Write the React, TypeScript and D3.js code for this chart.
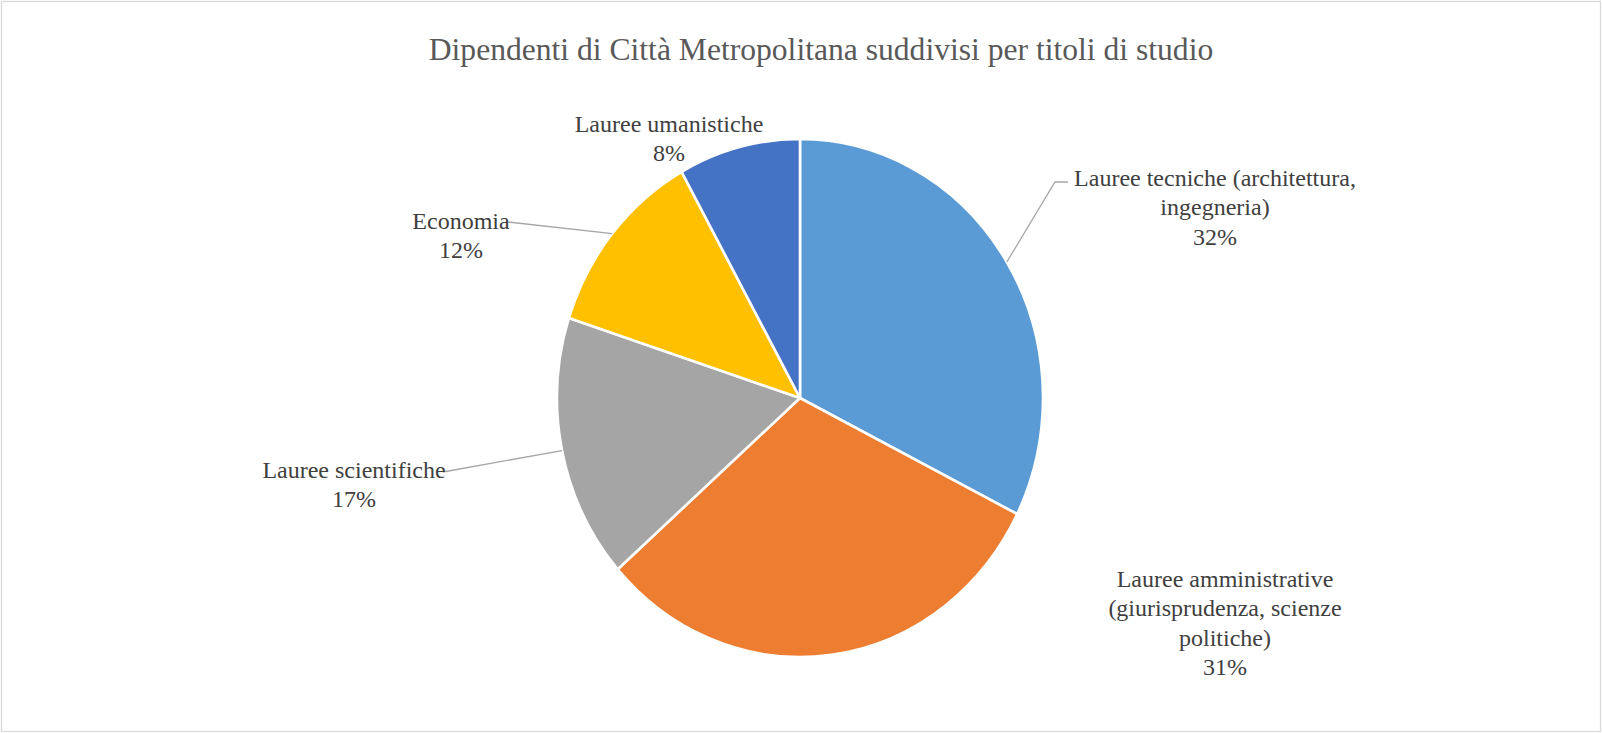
import { arc, pie } from 'd3'
import type { PieArcDatum } from 'd3'

const categories = [
  'Lauree tecniche (architettura, ingegneria)',
  'Lauree amministrative (giurisprudenza, scienze politiche)',
  'Lauree scientifiche',
  'Economia',
  'Lauree umanistiche',
]
const shares = [32.4, 31.1, 16.5, 11.9, 8.1]
const colors = ['#5B9BD5', '#ED7D31', '#A5A5A5', '#FFC000', '#4472C4']

// label text lines, placed by hand like the source chart
const labelLines = [
  ['Lauree tecniche (architettura,', 'ingegneria)'],
  ['Lauree amministrative', '(giurisprudenza, scienze', 'politiche)'],
  ['Lauree scientifiche'],
  ['Economia'],
  ['Lauree umanistiche'],
]
const labelPos = [
  { x: 1215, y: 186, leader: { x: 1068, y: 182, bend: 1055 } },
  { x: 1225, y: 587, leader: null },
  { x: 354, y: 478, leader: { x: 443, y: 472, bend: null } },
  { x: 461, y: 229, leader: { x: 508, y: 222, bend: null } },
  { x: 669, y: 132, leader: null },
]

const width = 1602
const height = 733
const cx = 800
const cy = 398
const radius = 243
const ky = 259 / 243
const lineH = 29.3

type Slice = { name: string; value: number; i: number }

const App = () => {
  const data: Slice[] = categories.map((name, i) => ({ name, value: shares[i], i }))
  const arcs = pie<Slice>().sort(null).value((d) => d.value)(data)
  const arcGen = arc<PieArcDatum<Slice>>().innerRadius(0).outerRadius(radius)
  const edgeGen = arc<PieArcDatum<Slice>>().innerRadius(radius).outerRadius(radius)

  return (
    <svg
      width={width}
      height={height}
      style={{ position: 'absolute', left: 0, top: 0, display: 'block' }}
      fontFamily="'Liberation Serif', 'Times New Roman', serif"
    >
      <rect x={0} y={0} width={width} height={height} fill="#fff" />
      <rect x={1.5} y={1.5} width={1599} height={730} fill="none" stroke="#D9D9D9" strokeWidth={1.3} />

      <text x={821} y={60} textAnchor="middle" fontSize={31.6} fill="#595959">
        Dipendenti di Città Metropolitana suddivisi per titoli di studio
      </text>

      <g transform={`translate(${cx}, ${cy}) scale(1, ${ky})`}>
        {arcs.map((a) => (
          <path
            key={a.data.name}
            d={arcGen(a) ?? ''}
            fill={colors[a.data.i]}
            stroke="#fff"
            strokeWidth={2.6}
            vectorEffect="non-scaling-stroke"
          />
        ))}
      </g>

      {arcs.map((a) => {
        const i = a.data.i
        const pos = labelPos[i]
        const lines = [...labelLines[i], `${Math.round(shares[i])}%`]
        const [ex, ey] = edgeGen.centroid(a)
        const end = { x: cx + ex, y: cy + ey * ky }
        let leader = null
        if (pos.leader) {
          const l = pos.leader
          const pts =
            l.bend != null
              ? `${l.x},${l.y} ${l.bend},${l.y} ${end.x},${end.y}`
              : `${l.x},${l.y} ${end.x},${end.y}`
          leader = <polyline points={pts} fill="none" stroke="#A6A6A6" strokeWidth={1.3} />
        }
        return (
          <g key={a.data.name}>
            {leader}
            <text textAnchor="middle" fontSize={24} fill="#404040">
              {lines.map((t, j) => (
                <tspan key={j} x={pos.x} y={pos.y + j * lineH}>
                  {t}
                </tspan>
              ))}
            </text>
          </g>
        )
      })}
    </svg>
  )
}

export default App
